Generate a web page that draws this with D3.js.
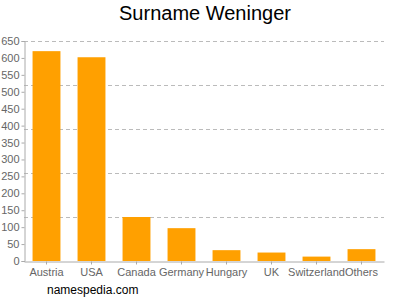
<!DOCTYPE html>
<html><head><meta charset="utf-8">
<script src="https://cdn.jsdelivr.net/npm/d3@7"></script>
<style>body{margin:0;background:#fff}svg{display:block}</style>
</head><body>
<script>
const categories = ["Austria","USA","Canada","Germany","Hungary","UK","Switzerland","Others"];
const values = [620, 602, 130, 97, 32, 25, 13, 35];
const yTicks = [0,50,100,150,200,250,300,350,400,450,500,550,600,650];
const gridValues = [130,260,390,520,650];

(function(){
const W=400,H=300, mL=24, mR=384, mT=41, mB=261;
const svg=d3.select("body").append("svg").attr("width",W).attr("height",H);
const x=d3.scaleBand().domain(categories).range([mL,mR]).paddingInner(0.38).paddingOuter(0.19);
const y=d3.scaleLinear().domain([0,650]).range([mB,mT]);
const font="Liberation Sans, Arial, sans-serif";

svg.append("text").attr("x",205).attr("y",20).attr("text-anchor","middle")
  .attr("font-family",font).attr("font-size",20).attr("fill","#000").text("Surname Weninger");

svg.selectAll(".grid").data(gridValues).enter().append("line")
  .attr("x1",mL).attr("x2",mR).attr("y1",d=>Math.round(y(d))+0.5).attr("y2",d=>Math.round(y(d))+0.5)
  .attr("stroke","#bbb").attr("stroke-dasharray","4,3");

svg.selectAll(".bar").data(values).enter().append("rect")
  .attr("x",(d,i)=>x(categories[i])).attr("width",x.bandwidth())
  .attr("y",d=>y(d)).attr("height",d=>mB-y(d)).attr("fill","#ffa000");

const ya=svg.append("g").attr("transform",`translate(${mL+0.5},0)`)
  .call(d3.axisLeft(y).tickValues(yTicks).tickSize(3).tickPadding(2));
ya.select(".domain").attr("stroke","#aaa");
ya.selectAll(".tick line").attr("stroke","#aaa");
ya.selectAll("text").attr("font-family",font).attr("font-size",11).attr("fill","#666");

const xa=svg.append("g").attr("transform",`translate(0,${mB+0.5})`)
  .call(d3.axisBottom(x).tickSize(3).tickSizeOuter(0).tickPadding(4));
xa.select(".domain").attr("stroke","#aaa");
xa.selectAll(".tick line").attr("stroke","#aaa");
xa.selectAll("text").attr("font-family",font).attr("font-size",11).attr("fill","#666");

svg.append("text").attr("x",47).attr("y",294).attr("font-family",font).attr("font-size",12)
  .attr("fill","#000").text("namespedia.com");
})();
</script>
</body></html>
